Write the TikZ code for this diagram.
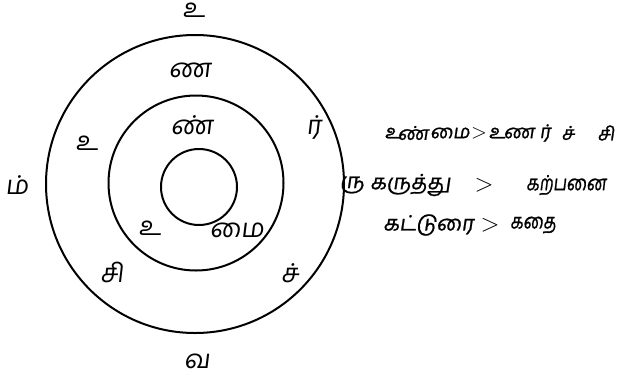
\documentclass[tikz,border=0pt]{standalone}
\usepackage{fontspec}
\newfontfamily\tamil[Script=Tamil,FakeSlant=0.12]{Hind Madurai}
\newfontfamily\tamilit[Script=Tamil,FakeSlant=0.15,FakeBold=1]{Hind Madurai}
\begin{document}
\begin{tikzpicture}[x=1pt,y=-1pt,
  ring/.style={draw=black,line width=2pt},
  lett/.style={inner sep=0pt,font=\tamil\fontsize{26}{28}\selectfont},
  rtext/.style={inner sep=0pt,font=\tamilit\fontsize{21}{23}\selectfont},
  sptext/.style={inner sep=0pt,font=\tamilit\fontsize{19}{21}\selectfont},
  gt/.style={inner sep=0pt,font=\fontsize{24}{26}\selectfont},
  gtsmall/.style={inner sep=0pt,font=\fontsize{21}{23}\selectfont}]
\useasboundingbox (0,0) rectangle (629,381);
% circles
\node[ring,circle,minimum size=298pt,inner sep=0pt] (outer) at (195,184) {};
\node[ring,circle,minimum size=175pt,inner sep=0pt] (middle) at (196,183) {};
\node[ring,circle,minimum size=76pt,inner sep=0pt] (inner) at (199,187) {};
% outer ring letters
\node[lett] (o1) at (194,10) {உ};
\node[lett] (o2) at (17,185) {ம்};
\node[lett] (o3) at (197,361) {வ};
% middle ring letters
\node[lett] (m1) at (190,70) {ண};
\node[lett] (m2) at (314,127) {ர்};
\node[lett] (m3) at (290,273) {ச்};
\node[lett] (m4) at (112,272) {சி};
\node[lett] (m5) at (87,143) {உ};
% inner ring letters
\node[lett] (i1) at (192,125) {ண்};
\node[lett] (i2) at (237,230) {மை};
\node[lett] (i3) at (150,228) {உ};
% right text, first line
\node[sptext] (a1a) at (393,133) {உ};
\node[sptext] (a1b) at (413,133) {ண்};
\node[sptext] (a1c) at (450,133) {மை};
\node[gtsmall] (a2) at (479,133) {$>$};
\node[sptext] (a3a) at (497,133) {உ};
\node[sptext] (a3b) at (519,133) {ண};
\node[sptext] (a3c) at (545,133) {ர்};
\node[sptext] (a3d) at (568,133) {ச்};
\node[sptext] (a3e) at (606,133) {சி};
% second line
\node[rtext] (b0) at (352,185) {ரு};
\node[rtext,anchor=west] (b1) at (370,185) {கருத்து};
\node[gt] (b2) at (484,185) {$>$};
\node[rtext,anchor=west] (b3) at (526,185) {\scalebox{0.8}[1]{கற்பனை}};
% third line
\node[rtext,anchor=west] (c1) at (383,225) {கட்டுரை};
\node[gt] (c2) at (490,225) {$>$};
\node[rtext,anchor=west] (c3) at (510,225) {\scalebox{0.8}[1]{கதை}};
\end{tikzpicture}
\end{document}
